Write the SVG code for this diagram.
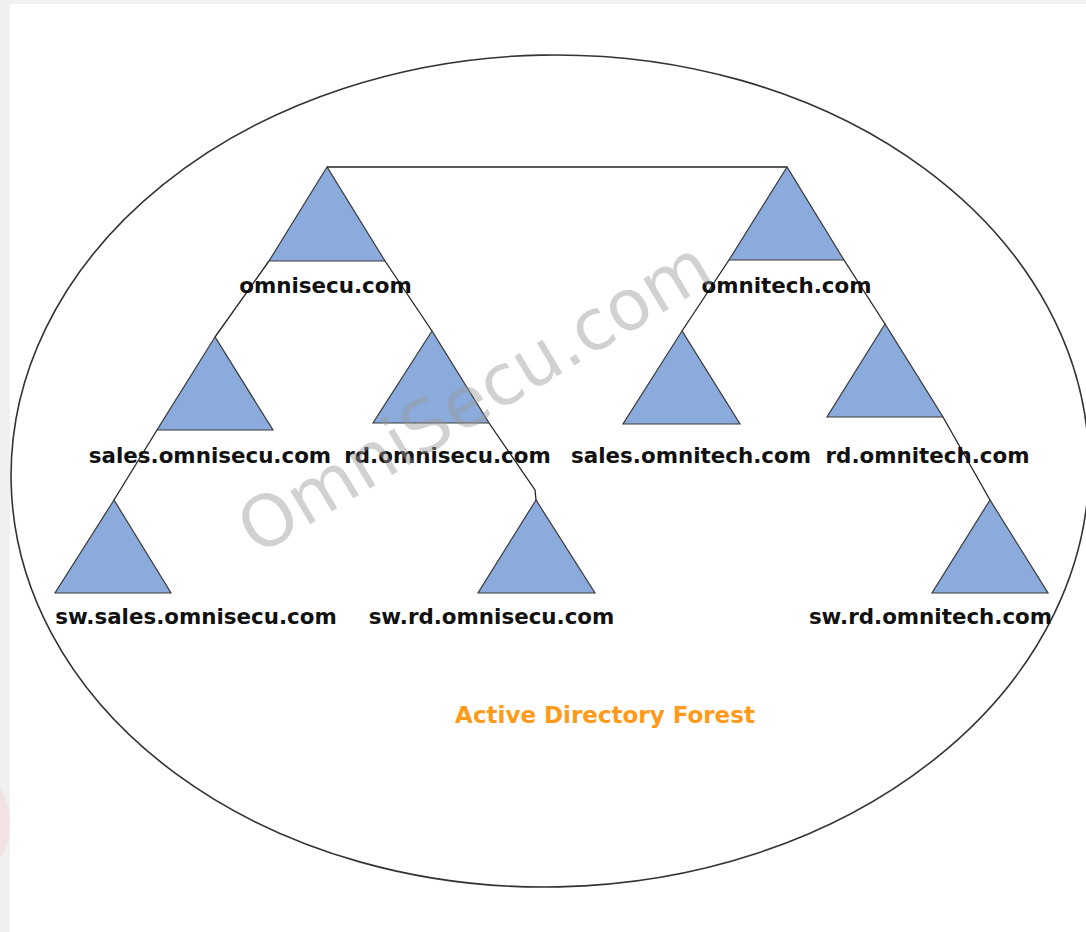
<svg xmlns="http://www.w3.org/2000/svg" width="1086" height="932" viewBox="0 0 1086 932">
  <style>
    .tri { fill: #8aabdb; stroke: #3a3a3a; stroke-width: 1.2; stroke-linejoin: miter; }
    .lbl { font-family: "DejaVu Sans", Verdana, sans-serif; font-weight: bold; font-size: 21.4px; fill: #111; text-anchor: middle; }
    .conn { fill: none; stroke: #222; stroke-width: 1.3; }
    .forest { fill: none; stroke: #333; stroke-width: 1.6; }
    .title { font-family: "DejaVu Sans", Verdana, sans-serif; font-weight: bold; font-size: 23px; fill: #ff9a1a; text-anchor: middle; }
    .wm { font-family: "DejaVu Sans", Verdana, sans-serif; font-size: 71px; fill: #9a9a9a; fill-opacity: 0.45; text-anchor: middle; }
  </style>
  <rect x="0" y="0" width="1086" height="932" fill="#f0f0f0"/>
  <circle cx="-58" cy="823" r="62" fill="none" stroke="#f2e2e2" stroke-width="12"/>
  <rect x="10" y="4" width="1076" height="928" fill="#ffffff"/>

  <g id="forest">
    <ellipse class="forest" cx="550" cy="471" rx="539" ry="416" transform="rotate(-1.2 550 471)"/>
  </g>

  <g id="connectors">
    <line class="conn" x1="327" y1="167" x2="787" y2="167"/>
    <line class="conn" x1="269" y1="261" x2="215" y2="337"/>
    <line class="conn" x1="385" y1="261" x2="432" y2="331"/>
    <line class="conn" x1="157" y1="430" x2="114" y2="500"/>
    <polyline class="conn" points="489,423 535,490 536,500"/>
    <line class="conn" x1="729" y1="260" x2="682" y2="331"/>
    <line class="conn" x1="844" y1="260" x2="885" y2="324"/>
    <line class="conn" x1="943" y1="417" x2="990" y2="500"/>
  </g>

  <g id="omnisecu">
    <polygon class="tri" points="327,167 269,261 385,261"/>
    <text class="lbl" x="325.5" y="293">omnisecu.com</text>
  </g>
  <g id="omnitech">
    <polygon class="tri" points="787,167 729,260 844,260"/>
    <text class="lbl" x="786.5" y="293">omnitech.com</text>
  </g>
  <g id="sales-omnisecu">
    <polygon class="tri" points="215,337 157,430 273,430"/>
    <text class="lbl" x="210" y="463">sales.omnisecu.com</text>
  </g>
  <g id="rd-omnisecu">
    <polygon class="tri" points="432,331 373,423 489,423"/>
    <text class="lbl" x="447.5" y="463">rd.omnisecu.com</text>
  </g>
  <g id="sales-omnitech">
    <polygon class="tri" points="682,331 623,424 740,424"/>
    <text class="lbl" x="691" y="463">sales.omnitech.com</text>
  </g>
  <g id="rd-omnitech">
    <polygon class="tri" points="885,324 827,417 943,417"/>
    <text class="lbl" x="927.5" y="463">rd.omnitech.com</text>
  </g>
  <g id="sw-sales-omnisecu">
    <polygon class="tri" points="114,500 55,593 171,593"/>
    <text class="lbl" x="196" y="624">sw.sales.omnisecu.com</text>
  </g>
  <g id="sw-rd-omnisecu">
    <polygon class="tri" points="536,500 478,593 595,593"/>
    <text class="lbl" x="491.5" y="624">sw.rd.omnisecu.com</text>
  </g>
  <g id="sw-rd-omnitech">
    <polygon class="tri" points="990,500 932,593 1048,593"/>
    <text class="lbl" x="930.5" y="624">sw.rd.omnitech.com</text>
  </g>

  <text class="title" x="605" y="723">Active Directory Forest</text>

  <text class="wm" transform="translate(487,418) rotate(-31)" x="0" y="0">OmniSecu.com</text>
</svg>
